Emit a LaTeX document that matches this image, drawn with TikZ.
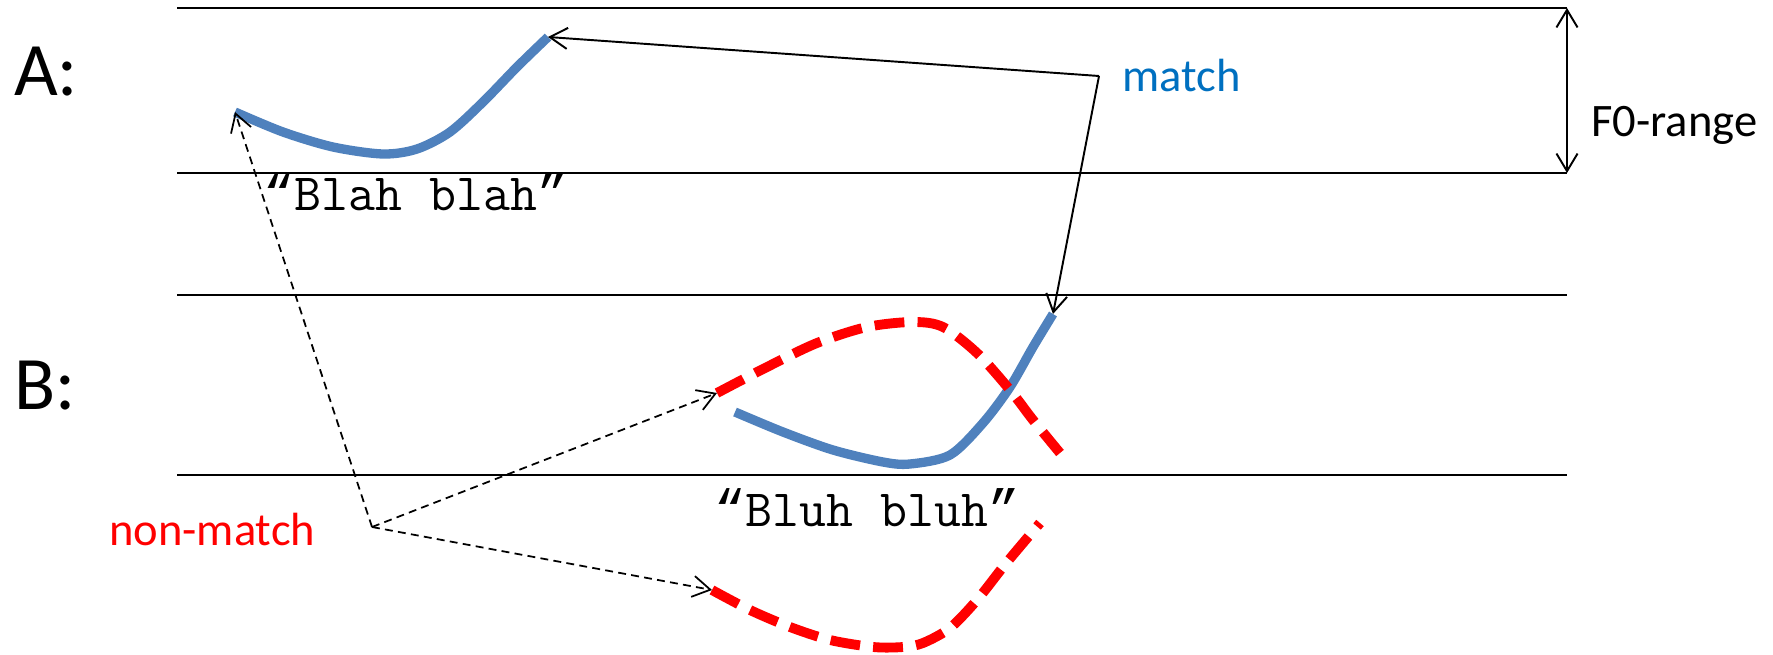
\documentclass[tikz,border=0pt]{standalone}
\usepackage{fontspec}
\setmainfont{Carlito}
\newfontfamily\quotefont{Liberation Mono}
\usetikzlibrary{arrows.meta}
\definecolor{curveblue}{RGB}{79,129,189}
\definecolor{textblue}{RGB}{0,112,192}

\newcommand{\said}[1]{{\quotefont“}#1{\quotefont”}}

\tikzset{
    staff/.style={line width=1.1pt},
    pitch/.style={line width=5.3pt, curveblue},
    wrong/.style={line width=5.6pt, red, dash pattern=on 17pt off 7.5pt},
    link/.style={line width=1.1pt, -{Straight Barb[length=10pt,width=12pt]}},
    nolink/.style={link, line width=1pt, dash pattern=on 4.5pt off 3pt},
    label/.style={font=\fontsize{26.5}{30}\selectfont},
    big/.style={font=\fontsize{43}{50}\selectfont},
    utter/.style={font=\ttfamily\fontsize{29.8}{34}\selectfont}
}

\begin{document}
\begin{tikzpicture}[x=0.02cm, y=-0.02cm]
    \useasboundingbox (0,0) rectangle (1773,655);

    % lines of the two pitch ranges
    \foreach \y in {8,173,295,475}
        \draw[staff] (177,\y) -- (1567,\y);

    \node[big, anchor=base west] (A) at (8,96) {A:};
    \node[big, anchor=base west] (B) at (8,409) {B:};

    % pitch contours
    \coordinate (a start) at (235,112);
    \coordinate (a end) at (548,37);
    \draw[pitch] plot[smooth] coordinates {(a start) (283,132) (333,147) (383,154)
        (417,149) (450,132) (483,102) (517,67) (a end)};
    \coordinate (b start) at (735,412);
    \coordinate (b end) at (1053,314);
    \draw[pitch] plot[smooth] coordinates {(b start) (783,432) (833,450) (883,462)
        (910,464) (950,455) (983,423) (1010,387) (1033,347) (b end)};
    \coordinate (up start) at (717,393);
    \draw[wrong] plot[smooth] coordinates {(up start) (767,367) (817,343) (867,327)
        (913,322) (943,327) (977,353) (1010,390) (1033,420) (1060,453)};
    \coordinate (low start) at (712,590);
    \draw[wrong] plot[smooth] coordinates {(low start) (750,610) (790,627) (830,640)
        (873,647) (903,647) (923,643) (950,628) (977,600) (1003,567) (1023,543) (1040,523)};

    \node[utter, anchor=base] (blah) at (416,211) {\said{Blah blah}};
    \node[utter, anchor=base] (bluh) at (867,526) {\said{Bluh bluh}};

    % F0 range
    \coordinate (top) at (1567,8);
    \coordinate (bot) at (1567,173);
    \draw[line width=1.1pt, {Straight Barb[length=10pt,width=12pt]}-{Straight Barb[length=10pt,width=12pt]}] (top) -- (bot);
    \node[label, anchor=base west] (range) at (1585,137) {F0-range};

    % match
    \coordinate (hub) at (1099,76);
    \node[label, textblue, anchor=base west] (match) at (1116,92) {match};
    \draw[link] (hub) -- (a end);
    \draw[link] (hub) -- (b end);

    % non-match
    \coordinate (nohub) at (372,527);
    \node[label, red, anchor=base west] (nomatch) at (103,545) {non-match};
    \draw[nolink] (nohub) -- (a start);
    \draw[nolink] (nohub) -- (up start);
    \draw[nolink] (nohub) -- (low start);
\end{tikzpicture}
\end{document}
